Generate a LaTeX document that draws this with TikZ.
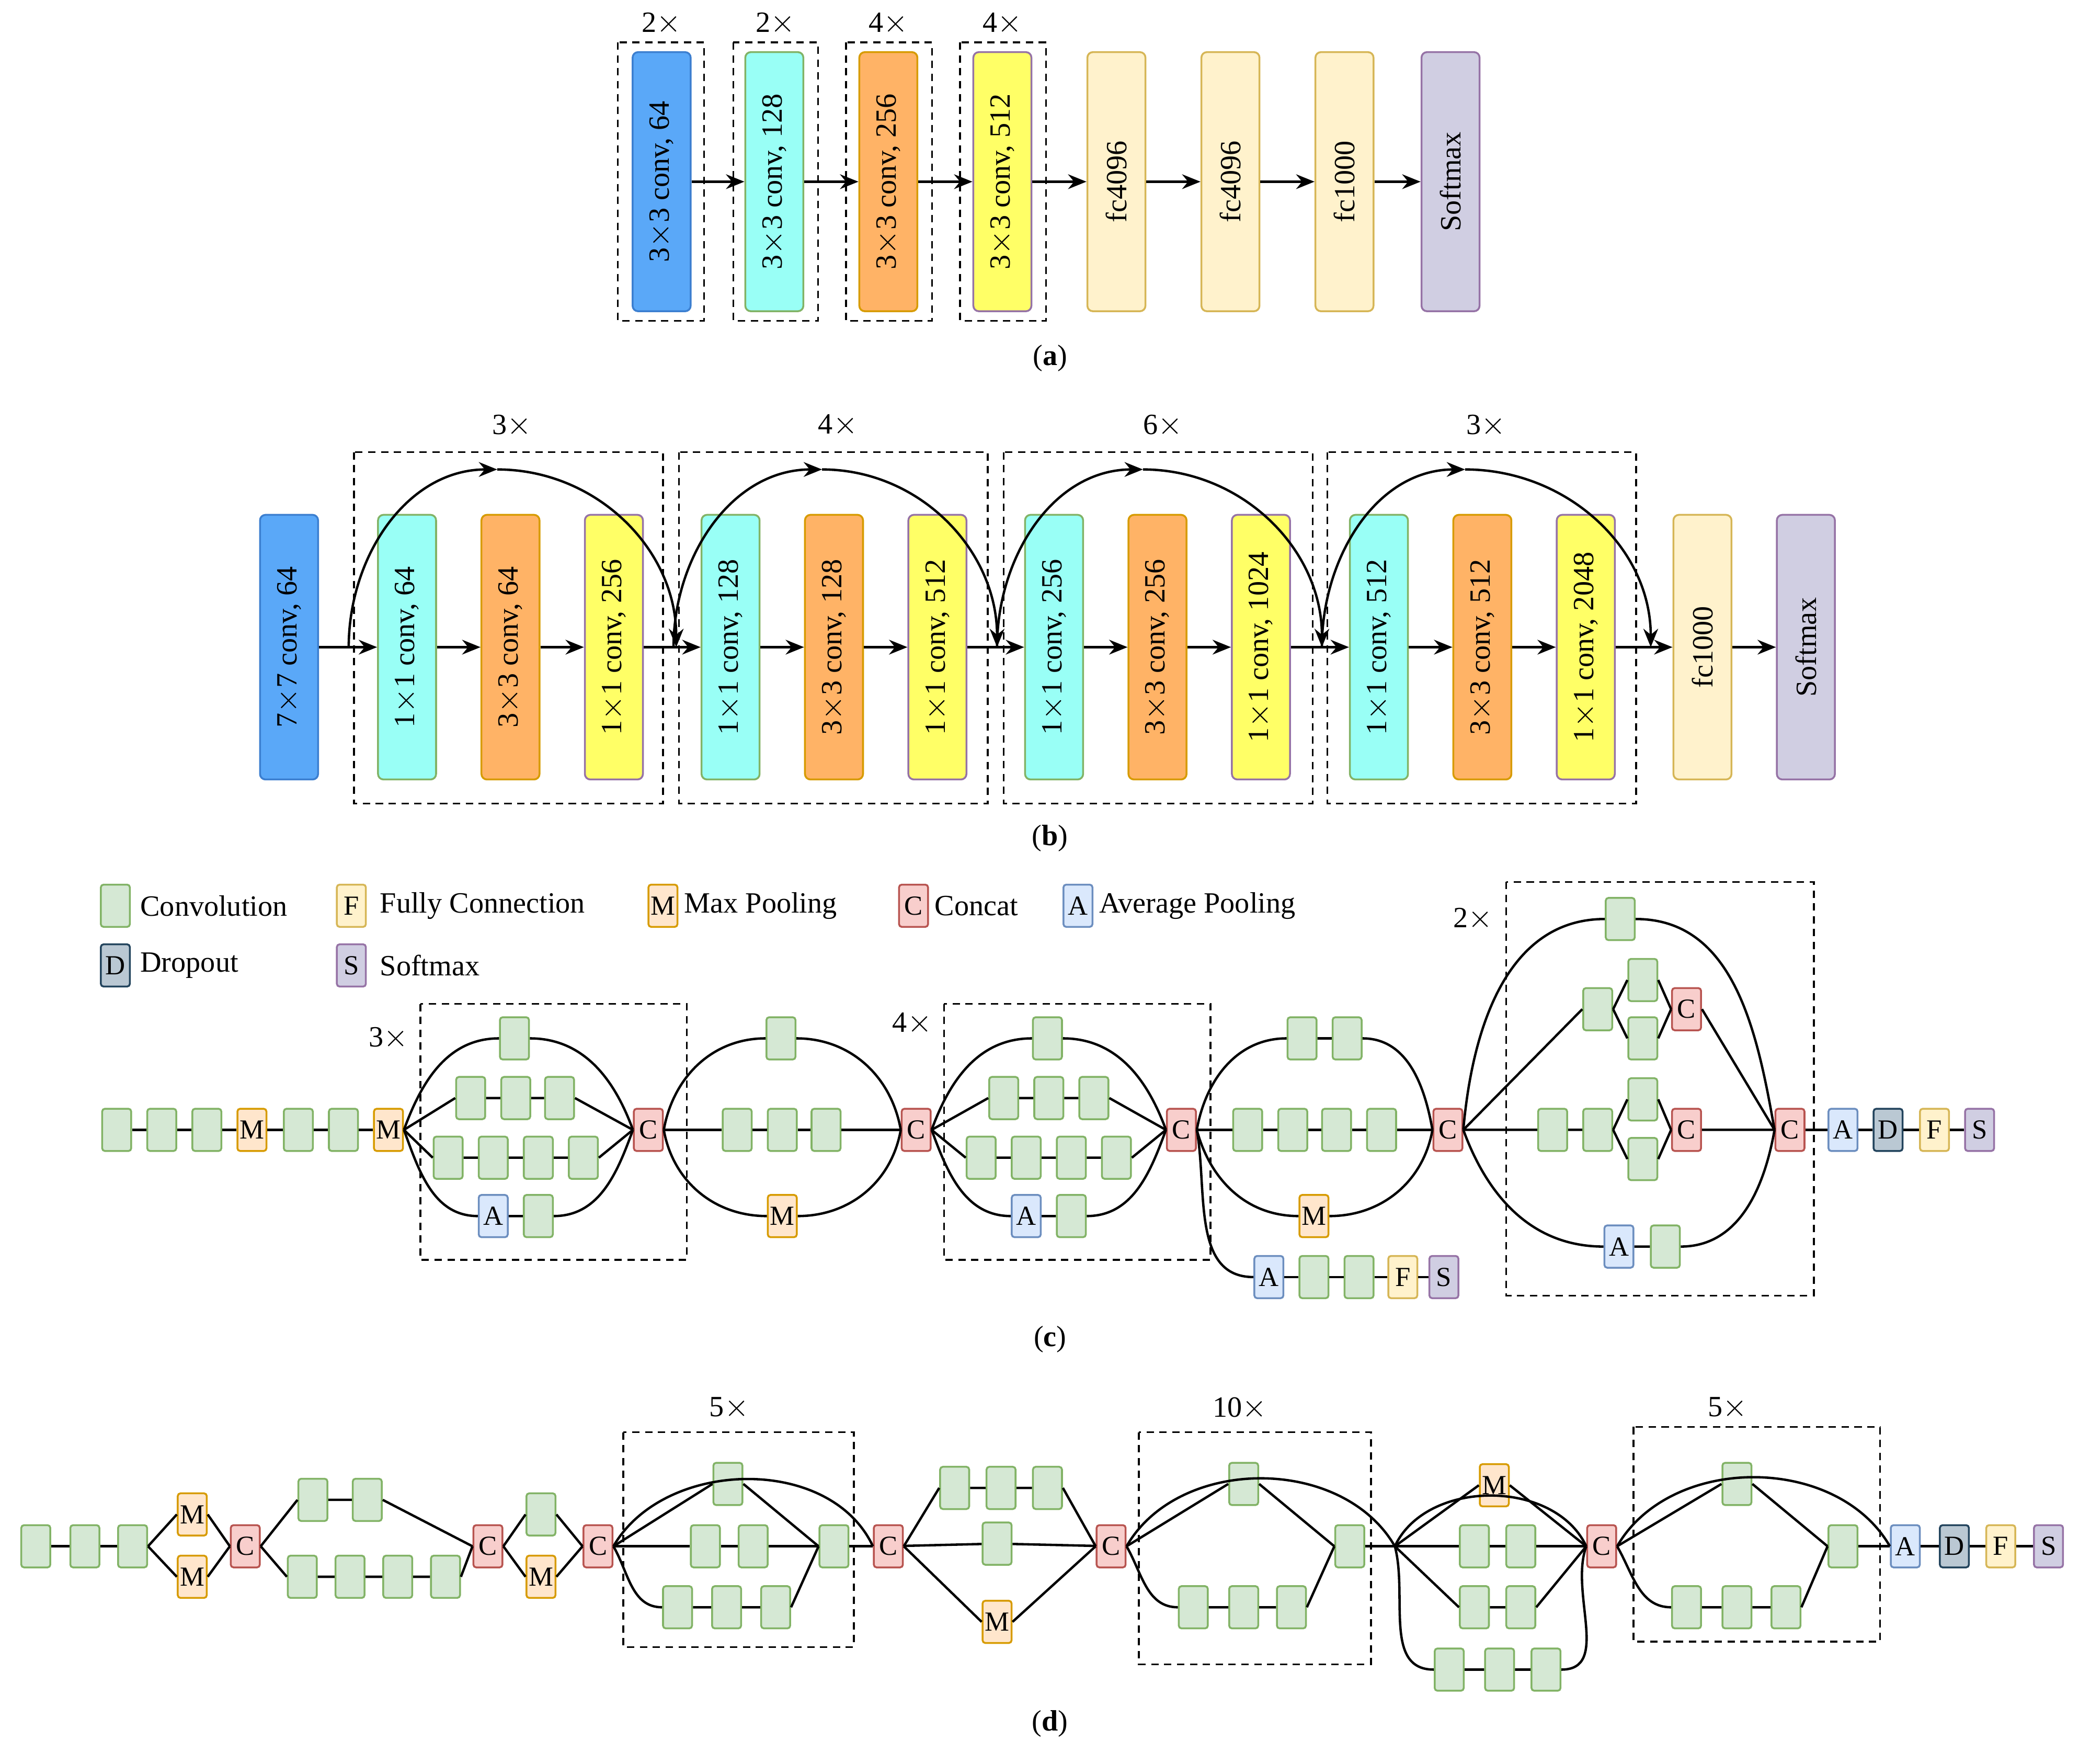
\documentclass[tikz,border=0pt]{standalone}
\usepackage{fontspec}
\setmainfont{Liberation Serif}
\usetikzlibrary{arrows.meta,positioning}
\definecolor{cvF}{HTML}{D5E8D4}\definecolor{cvD}{HTML}{82B366}
\definecolor{fcF}{HTML}{FFF2CC}\definecolor{fcD}{HTML}{D6B656}
\definecolor{mpF}{HTML}{FFE6CC}\definecolor{mpD}{HTML}{D79B00}
\definecolor{ccF}{HTML}{F8CECC}\definecolor{ccD}{HTML}{B85450}
\definecolor{apF}{HTML}{DAE8FC}\definecolor{apD}{HTML}{6C8EBF}
\definecolor{dpF}{HTML}{BAC8D3}\definecolor{dpD}{HTML}{23445D}
\definecolor{smF}{HTML}{D0CEE2}\definecolor{smD}{HTML}{9673A6}
\definecolor{blF}{HTML}{5AA8F8}\definecolor{blD}{HTML}{3C7FD0}
\definecolor{cyF}{HTML}{99FFF6}
\definecolor{orF}{HTML}{FFB366}
\definecolor{yeF}{HTML}{FFFF66}
\tikzset{
  sq/.style={draw, rounded corners=1.5pt, line width=1pt, minimum width=15.8pt,
    minimum height=23pt, inner sep=0pt, font=\fontsize{15}{15}\selectfont},
  cv/.style={sq, fill=cvF, draw=cvD},
  fc/.style={sq, fill=fcF, draw=fcD},
  mp/.style={sq, fill=mpF, draw=mpD},
  cc/.style={sq, fill=ccF, draw=ccD},
  ap/.style={sq, fill=apF, draw=apD},
  dp/.style={sq, fill=dpF, draw=dpD},
  sm/.style={sq, fill=smF, draw=smD},
  blk/.style={draw, rounded corners=3pt, line width=1pt, minimum width=141pt,
    minimum height=31.6pt, rotate=90, inner sep=0pt, font=\fontsize{16}{16}\selectfont},
  blkb/.style={blk, minimum width=144pt},
  dbox/.style={dashed, line width=1pt, dash pattern=on 4pt off 3pt},
  lbl/.style={font=\fontsize{16}{16}\selectfont, inner sep=1pt},
  arr/.style={line width=1.3pt, -{Stealth[length=10pt,width=8pt]}},
  ln/.style={line width=1.3pt},
}
\begin{document}
\begin{tikzpicture}[x=0.02536cm, y=-0.02536cm]
\useasboundingbox (0,0) rectangle (1568,1330);

% (a)
\node[blk, fill=blF, draw=blD] (a1) at (499,137) {3$\times$3 conv, 64};
\node[blk, fill=cyF, draw=cvD] (a2) at (584,137) {3$\times$3 conv, 128};
\node[blk, fill=orF, draw=mpD] (a3) at (670,137) {3$\times$3 conv, 256};
\node[blk, fill=yeF, draw=smD] (a4) at (756,137) {3$\times$3 conv, 512};
\node[blk, fill=fcF, draw=fcD] (a5) at (842,137) {fc4096};
\node[blk, fill=fcF, draw=fcD] (a6) at (928,137) {fc4096};
\node[blk, fill=fcF, draw=fcD] (a7) at (1014,137) {fc1000};
\node[blk, fill=smF, draw=smD] (a8) at (1094,137) {Softmax};
\foreach \i [evaluate=\i as \j using int(\i+1)] in {1,...,7}
  \draw[arr] (a\i.south) -- (a\j.north);
\draw[dbox] (466,32) rectangle (531,242);
\draw[dbox] (553,32) rectangle (617,242);
\draw[dbox] (638,32) rectangle (703,242);
\draw[dbox] (724,32) rectangle (789,242);
\node[lbl] (ra1) at (499,18) {2$\times$};
\node[lbl] (ra2) at (585,18) {2$\times$};
\node[lbl] (ra3) at (670,18) {4$\times$};
\node[lbl] (ra4) at (756,18) {4$\times$};
\node[lbl] (capa) at (792,270) {(\textbf{a})};

% (b)
\node[blkb, fill=blF, draw=blD] (b0) at (218,488) {7$\times$7 conv, 64};
\node[blkb, fill=cyF, draw=cvD] (b1) at (307,488) {1$\times$1 conv, 64};
\node[blkb, fill=orF, draw=mpD] (b2) at (385,488) {3$\times$3 conv, 64};
\node[blkb, fill=yeF, draw=smD] (b3) at (463,488) {1$\times$1 conv, 256};
\node[blkb, fill=cyF, draw=cvD] (b4) at (551,488) {1$\times$1 conv, 128};
\node[blkb, fill=orF, draw=mpD] (b5) at (629,488) {3$\times$3 conv, 128};
\node[blkb, fill=yeF, draw=smD] (b6) at (707,488) {1$\times$1 conv, 512};
\node[blkb, fill=cyF, draw=cvD] (b7) at (795,488) {1$\times$1 conv, 256};
\node[blkb, fill=orF, draw=mpD] (b8) at (873,488) {3$\times$3 conv, 256};
\node[blkb, fill=yeF, draw=smD] (b9) at (951,488) {1$\times$1 conv, 1024};
\node[blkb, fill=cyF, draw=cvD] (b10) at (1040,488) {1$\times$1 conv, 512};
\node[blkb, fill=orF, draw=mpD] (b11) at (1118,488) {3$\times$3 conv, 512};
\node[blkb, fill=yeF, draw=smD] (b12) at (1196,488) {1$\times$1 conv, 2048};
\node[blkb, fill=fcF, draw=fcD] (b13) at (1284,488) {fc1000};
\node[blkb, fill=smF, draw=smD] (b14) at (1362,488) {Softmax};
\foreach \i [evaluate=\i as \j using int(\i+1)] in {0,...,13}
  \draw[arr] (b\i.south) -- (b\j.north);
% skip arcs
\foreach \s/\p/\e [count=\k] in {263/375/510, 508/620/752, 752/862/997, 997/1105/1245} {
  \coordinate (s\k) at (\s,488);
  \coordinate (p\k) at (\p,354);
  \coordinate (e\k) at (\e,488);
  \draw[arr] (s\k) to[out=90,in=180] (p\k);
  \draw[arr] (p\k) to[out=0,in=90] (e\k);
}
\draw[dbox] (267,341) rectangle (500,606);
\draw[dbox] (512,341) rectangle (745,606);
\draw[dbox] (757,341) rectangle (990,606);
\draw[dbox] (1001,341) rectangle (1234,606);
\node[lbl] (rb1) at (386,321) {3$\times$};
\node[lbl] (rb2) at (632,321) {4$\times$};
\node[lbl] (rb3) at (877,321) {6$\times$};
\node[lbl] (rb4) at (1121,321) {3$\times$};
\node[lbl] (capb) at (792,632) {(\textbf{b})};

% (c) legend
\node[cv] (l1) at (87,683) {};
\node[lbl, right=4pt of l1] {Convolution};
\node[fc] (l2) at (265,683) {F};
\node[lbl, right=6pt of l2] {Fully Connection};
\node[mp] (l3) at (500,683) {M};
\node[lbl, right=2pt of l3] {Max Pooling};
\node[cc] (l4) at (689,683) {C};
\node[lbl, right=2pt of l4] {Concat};
\node[ap] (l5) at (813,683) {A};
\node[lbl, right=2pt of l5] {Average Pooling};
\node[dp] (l6) at (87,728) {D};
\node[lbl, right=4pt of l6] {Dropout};
\node[sm] (l7) at (265,728) {S};
\node[lbl, right=6pt of l7] {Softmax};

% (c) stem
\node[cv] (p1) at (88,852) {};
\node[cv] (p2) at (122,852) {};
\node[cv] (p3) at (156,852) {};
\node[mp] (p4) at (190,852) {M};
\node[cv] (p5) at (225,852) {};
\node[cv] (p6) at (259,852) {};
\node[mp] (p7) at (293,852) {M};
\draw[ln] (p1) -- (p2) -- (p3) -- (p4) -- (p5) -- (p6) -- (p7);

% (c) inception 3x
\node[cv] (i1t) at (388,783) {};
\node[cv] (i1u1) at (355,828) {};
\node[cv] (i1u2) at (389,828) {};
\node[cv] (i1u3) at (422,828) {};
\node[cv] (i1v1) at (338,873) {};
\node[cv] (i1v2) at (372,873) {};
\node[cv] (i1v3) at (406,873) {};
\node[cv] (i1v4) at (440,873) {};
\node[ap] (i1a) at (372,917) {A};
\node[cv] (i1w) at (406,917) {};
\node[cc] (k1) at (489,852) {C};
\draw[ln] (p7.east) to[out=70,in=180] (i1t.west) (i1t.east) to[out=0,in=110] (k1.west);
\draw[ln] (p7.east) -- (i1u1.west) (i1u1) -- (i1u2) -- (i1u3) (i1u3.east) -- (k1.west);
\draw[ln] (p7.east) -- (i1v1.west) (i1v1) -- (i1v2) -- (i1v3) -- (i1v4) (i1v4.east) -- (k1.west);
\draw[ln] (p7.east) to[out=-70,in=180] (i1a.west) (i1a) -- (i1w) (i1w.east) to[out=0,in=-110] (k1.west);
\draw[dbox] (317,757) rectangle (518,950);
\node[lbl] (rc1) at (293,783) {3$\times$};

% (c) second block
\node[cv] (i2t) at (589,783) {};
\node[cv] (i2m1) at (556,852) {};
\node[cv] (i2m2) at (590,852) {};
\node[cv] (i2m3) at (623,852) {};
\node[mp] (i2b) at (590,917) {M};
\node[cc] (k2) at (691,852) {C};
\draw[ln] (k1.east) to[out=80,in=180] (i2t.west) (i2t.east) to[out=0,in=100] (k2.west);
\draw[ln] (k1) -- (i2m1) -- (i2m2) -- (i2m3) -- (k2);
\draw[ln] (k1.east) to[out=-80,in=180] (i2b.west) (i2b.east) to[out=0,in=-100] (k2.west);

% (c) inception 4x
\node[cv] (i3t) at (790,783) {};
\node[cv] (i3u1) at (757,828) {};
\node[cv] (i3u2) at (791,828) {};
\node[cv] (i3u3) at (825,828) {};
\node[cv] (i3v1) at (740,873) {};
\node[cv] (i3v2) at (774,873) {};
\node[cv] (i3v3) at (808,873) {};
\node[cv] (i3v4) at (842,873) {};
\node[ap] (i3a) at (774,917) {A};
\node[cv] (i3w) at (808,917) {};
\node[cc] (k3) at (891,852) {C};
\draw[ln] (k2.east) to[out=70,in=180] (i3t.west) (i3t.east) to[out=0,in=110] (k3.west);
\draw[ln] (k2.east) -- (i3u1.west) (i3u1) -- (i3u2) -- (i3u3) (i3u3.east) -- (k3.west);
\draw[ln] (k2.east) -- (i3v1.west) (i3v1) -- (i3v2) -- (i3v3) -- (i3v4) (i3v4.east) -- (k3.west);
\draw[ln] (k2.east) to[out=-70,in=180] (i3a.west) (i3a) -- (i3w) (i3w.east) to[out=0,in=-110] (k3.west);
\draw[dbox] (712,757) rectangle (913,950);
\node[lbl] (rc2) at (688,772) {4$\times$};

% (c) auxiliary branch
\node[ap] (q1) at (957,963) {A};
\node[cv] (q2) at (991,963) {};
\node[cv] (q3) at (1025,963) {};
\node[fc] (q4) at (1058,963) {F};
\node[sm] (q5) at (1089,963) {S};
\draw[ln] (k3.east) to[out=-80,in=180] (q1.west);
\draw[ln] (q1) -- (q2) -- (q3) -- (q4) -- (q5);

% (c) fourth block
\node[cv] (i4t1) at (982,783) {};
\node[cv] (i4t2) at (1016,783) {};
\node[cv] (i4m1) at (941,852) {};
\node[cv] (i4m2) at (975,852) {};
\node[cv] (i4m3) at (1008,852) {};
\node[cv] (i4m4) at (1042,852) {};
\node[mp] (i4b) at (991,917) {M};
\node[cc] (k4) at (1092,852) {C};
\draw[ln] (k3.east) to[out=80,in=180] (i4t1.west) (i4t1) -- (i4t2) (i4t2.east) to[out=0,in=100] (k4.west);
\draw[ln] (k3) -- (i4m1) -- (i4m2) -- (i4m3) -- (i4m4) -- (k4);
\draw[ln] (k3.east) to[out=-75,in=180] (i4b.west) (i4b.east) to[out=0,in=-100] (k4.west);

% (c) inception 2x
\node[cv] (i5t) at (1222,693) {};
\node[cv] (i5y1) at (1205,761) {};
\node[cv] (i5y2) at (1239,739) {};
\node[cv] (i5y3) at (1239,783) {};
\node[cc] (k5a) at (1272,761) {C};
\node[cv] (i5x1) at (1171,852) {};
\node[cv] (i5x2) at (1205,852) {};
\node[cv] (i5x3) at (1239,829) {};
\node[cv] (i5x4) at (1239,874) {};
\node[cc] (k5b) at (1272,852) {C};
\node[ap] (i5a) at (1221,940) {A};
\node[cv] (i5w) at (1256,940) {};
\node[cc] (k6) at (1350,852) {C};
\draw[ln] (k4.east) to[out=85,in=180] (i5t.west) (i5t.east) to[out=0,in=100] (k6.west);
\draw[ln] (k4.east) -- (i5y1.west) (i5y1.east) -- (i5y2.west) (i5y1.east) -- (i5y3.west)
  (i5y2.east) -- (k5a.west) (i5y3.east) -- (k5a.west) (k5a.east) -- (k6.west);
\draw[ln] (k4) -- (i5x1) -- (i5x2) (i5x2.east) -- (i5x3.west) (i5x2.east) -- (i5x4.west)
  (i5x3.east) -- (k5b.west) (i5x4.east) -- (k5b.west) (k5b) -- (k6);
\draw[ln] (k4.east) to[out=-70,in=180] (i5a.west) (i5a) -- (i5w) (i5w.east) to[out=0,in=-100] (k6.west);
\draw[dbox] (1136,665) rectangle (1368,977);
\node[lbl] (rc3) at (1111,693) {2$\times$};
\node[ap] (e1) at (1390,852) {A};
\node[dp] (e2) at (1424,852) {D};
\node[fc] (e3) at (1459,852) {F};
\node[sm] (e4) at (1493,852) {S};
\draw[ln] (k6) -- (e1) -- (e2) -- (e3) -- (e4);
\node[lbl] (capc) at (792,1010) {(\textbf{c})};

% (d) stem
\node[cv] (g1) at (27,1166) {};
\node[cv] (g2) at (64,1166) {};
\node[cv] (g3) at (100,1166) {};
\node[mp] (h1) at (145,1142) {M};
\node[mp] (h2) at (145,1189) {M};
\node[cc] (j1) at (185,1166) {C};
\draw[ln] (g1) -- (g2) -- (g3);
\draw[ln] (g3.east) -- (h1.west) (g3.east) -- (h2.west) (h1.east) -- (j1.west) (h2.east) -- (j1.west);
\node[cv] (g4) at (236,1131) {};
\node[cv] (g5) at (277,1131) {};
\node[cv] (g6) at (228,1189) {};
\node[cv] (g7) at (264,1189) {};
\node[cv] (g8) at (300,1189) {};
\node[cv] (g9) at (336,1189) {};
\node[cc] (j2) at (368,1166) {C};
\draw[ln] (j1.east) -- (g4.west) (g4) -- (g5) (g5.east) -- (j2.west);
\draw[ln] (j1.east) -- (g6.west) (g6) -- (g7) -- (g8) -- (g9) (g9.east) -- (j2.west);
\node[cv] (g10) at (408,1142) {};
\node[mp] (h3) at (408,1189) {M};
\node[cc] (j3) at (451,1166) {C};
\draw[ln] (j2.east) -- (g10.west) (g10.east) -- (j3.west) (j2.east) -- (h3.west) (h3.east) -- (j3.west);

% (d) block 5x
\node[cv] (n1) at (549,1119) {};
\node[cv] (n2) at (532,1166) {};
\node[cv] (n3) at (568,1166) {};
\node[cv] (n4) at (511,1212) {};
\node[cv] (n5) at (548,1212) {};
\node[cv] (n6) at (585,1212) {};
\node[cv] (n7) at (629,1166) {};
\node[cc] (j4) at (670,1166) {C};
\draw[ln] (j3.east) to[out=60,in=115] (j4.west);
\draw[ln] (j3.east) -- (n1.west) (n1.east) -- (n7.west);
\draw[ln] (j3) -- (n2) -- (n3) -- (n7) -- (j4);
\draw[ln] (j3.east) to[out=-60,in=180] (n4.west) (n4) -- (n5) -- (n6) (n6.east) -- (n7.west);
\draw[dbox] (470,1080) rectangle (644,1242);
\node[lbl] (rd1) at (550,1062) {5$\times$};

% (d) reduction
\node[cv] (o1) at (720,1122) {};
\node[cv] (o2) at (755,1122) {};
\node[cv] (o3) at (790,1122) {};
\node[cv] (o4) at (752,1164) {};
\node[mp] (h4) at (752,1223) {M};
\node[cc] (j5) at (838,1166) {C};
\draw[ln] (j4.east) -- (o1.west) (o1) -- (o2) -- (o3) (o3.east) -- (j5.west);
\draw[ln] (j4) -- (o4) -- (j5);
\draw[ln] (j4.east) -- (h4.west) (h4.east) -- (j5.west);

% (d) block 10x
\node[cv] (r1) at (938,1119) {};
\node[cv] (r2) at (900,1212) {};
\node[cv] (r3) at (938,1212) {};
\node[cv] (r4) at (974,1212) {};
\node[cv] (r5) at (1018,1166) {};
\coordinate (b1) at (1052,1166);
\draw[ln] (j5.east) to[out=60,in=120] (b1);
\draw[ln] (j5.east) -- (r1.west) (r1.east) -- (r5.west);
\draw[ln] (j5.east) to[out=-60,in=180] (r2.west) (r2) -- (r3) -- (r4) (r4.east) -- (r5.west);
\draw[ln] (r5) -- (b1);
\draw[dbox] (859,1080) rectangle (1034,1255);
\node[lbl] (rd2) at (935,1062) {10$\times$};

% (d) reduction 2
\node[mp] (h5) at (1127,1120) {M};
\node[cv] (s1) at (1112,1166) {};
\node[cv] (s2) at (1147,1166) {};
\node[cv] (s3) at (1112,1212) {};
\node[cv] (s4) at (1147,1212) {};
\node[cv] (s5) at (1093,1259) {};
\node[cv] (s6) at (1131,1259) {};
\node[cv] (s7) at (1166,1259) {};
\node[cc] (j6) at (1208,1166) {C};
\draw[ln] (b1) to[out=65,in=115] (j6.west);
\draw[ln] (b1) -- (h5.west) (h5.east) -- (j6.west);
\draw[ln] (b1) -- (s1) -- (s2) -- (j6);
\draw[ln] (b1) -- (s3.west) (s3) -- (s4) (s4.east) -- (j6.west);
\draw[ln] (b1) to[out=-75,in=180] (s5.west) (s5) -- (s6) -- (s7) (s7.east) to[out=0,in=-110] (j6.west);

% (d) block 5x
\node[cv] (t1) at (1310,1119) {};
\node[cv] (t2) at (1272,1212) {};
\node[cv] (t3) at (1310,1212) {};
\node[cv] (t4) at (1347,1212) {};
\node[cv] (t5) at (1390,1166) {};
\node[ap] (u1) at (1437,1166) {A};
\node[dp] (u2) at (1474,1166) {D};
\node[fc] (u3) at (1509,1166) {F};
\node[sm] (u4) at (1545,1166) {S};
\draw[ln] (j6.east) to[out=60,in=120] (u1.west);
\draw[ln] (j6.east) -- (t1.west) (t1.east) -- (t5.west);
\draw[ln] (j6.east) to[out=-60,in=180] (t2.west) (t2) -- (t3) -- (t4) (t4.east) -- (t5.west);
\draw[ln] (t5) -- (u1) -- (u2) -- (u3) -- (u4);
\draw[dbox] (1232,1076) rectangle (1418,1238);
\node[lbl] (rd3) at (1303,1062) {5$\times$};
\node[lbl] (capd) at (792,1300) {(\textbf{d})};
\end{tikzpicture}
\end{document}
